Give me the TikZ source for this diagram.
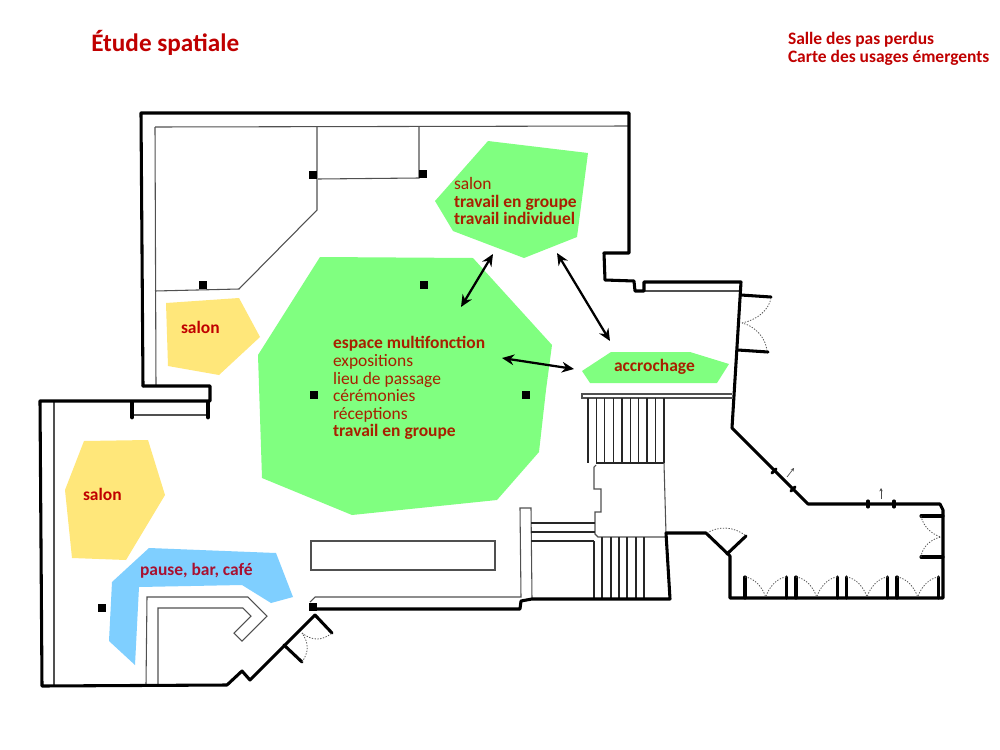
\documentclass[tikz,border=0pt]{standalone}
\usepackage{fontspec}
\setmainfont{Carlito}
\usetikzlibrary{arrows.meta}
\definecolor{zgreen}{HTML}{80FF80}
\definecolor{zyellow}{HTML}{FFE77A}
\definecolor{zblue}{HTML}{7FCFFF}
\definecolor{titlered}{HTML}{C00000}
\definecolor{zonetxt}{HTML}{A82000}
\definecolor{yellowtxt}{HTML}{C00000}
\definecolor{bluetxt}{HTML}{A81030}
\definecolor{thinline}{HTML}{505050}
\newcommand{\regsize}{\fontsize{13.1}{16}\selectfont}
\newcommand{\boldsize}{\fontsize{13.1}{16}\selectfont\bfseries}
\tikzset{
  wall/.style={draw=black,line width=2.3pt,line join=round,line cap=round},
  jamb/.style={draw=black,line width=2.3pt,line cap=round},
  fatjamb/.style={draw=black,line width=3.6pt,line cap=round},
  thinwall/.style={draw=thinline,line width=0.8pt,line join=miter},
  tread/.style={draw=black!85,line width=0.9pt},
  swing/.style={draw=black!65,line width=0.6pt,dash pattern=on 1pt off 1.1pt},
  pillar/.style={fill=black,draw=none,minimum size=6pt,inner sep=0pt,outer sep=0pt,rectangle},
  zone/.style={draw=none},
  flow/.style={draw=black,line width=1.7pt,{Stealth[length=9pt,width=8pt]}-{Stealth[length=9pt,width=8pt]}},
  tiny/.style={draw=black!70,line width=0.5pt,-{Stealth[length=2.5pt,width=2.5pt]}},
  lbl/.style={anchor=base west,inner sep=0pt,outer sep=0pt,font=\regsize,align=left},
  zlbl/.style={lbl,text=zonetxt},
  zbold/.style={zlbl,font=\boldsize}
}
\begin{document}
\begin{tikzpicture}[x=0.75pt,y=-0.75pt]
\useasboundingbox (0,0) rectangle (1000,750);
\fill[white] (0,0) rectangle (1000,750);
% zones
\fill[zone,zgreen] (320,257)--(473,258)--(552,345)--(546,390)--(539,452)--(497,500)--(352,515)--(262,478)--(258,355)--cycle;
\fill[zone,zgreen] (488,141)--(588,153)--(577,237)--(524,258)--(453,231)--(435,201)--cycle;
\fill[zone,zgreen] (611,352)--(690,352)--(729,364)--(717,383)--(590,383)--(582,371)--cycle;
\fill[zone,zyellow] (166,303)--(239,298)--(260,337)--(219,375)--(168,366)--cycle;
\fill[zone,zyellow] (84,441)--(148,440)--(165,495)--(126,560)--(72,558)--(65,490)--cycle;
\fill[zone,zblue] (149,548)--(276,553)--(293,597)--(271,603)--(242,585)--(139,587)--(135,665)--(109,641)--(112,582)--cycle;
% thin inner lines, upper room
\draw[thinwall] (155,127)--(629,126);
\draw[thinwall] (155,127)--(156,386);
\draw[thinwall] (155,291)--(239,289)--(317,210)--(317,127);
\draw[thinwall] (318,179)--(419,178)--(419,127);
% lower left
\draw[thinwall] (54,401)--(54,686);
\draw[thinwall] (146,685)--(147,597)--(248,597)--(267,616)--(242,641)--(234,633)--(251,616)--(243,608)--(158,608)--(158,685);
\draw[thinwall] (132,415)--(208,415);
% long rectangle
\draw[thinwall] (311,541) rectangle (495,570);
% bench
\draw[thinwall] (310,602)--(315,597)--(521,597)--(520,508)--(531,508)--(532,599);
% stairs upper
\draw[thinwall] (732,394)--(582,394)--(582,398)--(732,398);
\foreach \tx in {588,596.3,604.7,613.3,622,630.7,638.7,647,655.7,664}{
  \draw[tread] (\tx,398)--(\tx,463);
}
\draw[tread] (596,463)--(664,463);
\draw[thinwall] (664,463)--(666,534);
\draw[thinwall] (596,465)--(594,467)--(594,489)--(601,489)--(601,512)--(595,512)--(595,534)--(598,537)--(666,537);
\foreach \tx in {602,611,619,627,636,644}{
  \draw[tread] (\tx,537)--(\tx,599);
}
\draw[tread] (594,541)--(594,599);
\draw[tread] (531,523)--(595,523);
\draw[tread] (531,532)--(595,532);
\draw[tread] (531,541)--(594,541);
\draw[thinwall] (644,291)--(741,291);
% walls
\draw[wall] (143,386)--(141,113)--(629,113)--(629,253)--(604,253)--(605,280)--(634,281)--(635,291)--(644,291)--(644,282)--(741,282)--(732,428)--(808,504)--(940,504)--(943,510)--(943,598)--(730,598)--(730,556)--(706,533)--(666,533)--(670,599)--(532,599)--(521,601)--(520,609)--(317,609);
\draw[wall] (315,615)--(250,680)--(242,671)--(227,685)--(42,686)--(40,401)--(210,401)--(210,386)--(143,386);
% jambs
\draw[fatjamb] (132,403)--(132,417);
\draw[fatjamb] (208,403)--(208,417);
\draw[jamb] (284,645)--(302,662);
\draw[jamb] (315,615)--(332,633);
\draw[jamb] (741,295)--(771,297);
\draw[jamb] (738,350)--(768,352);
\draw[jamb] (727,554)--(746,536);
\foreach \jx in {745,786.3,796,837.3,846.3,887.7,897,938.7}{
  \draw[jamb] (\jx,577)--(\jx,598);
}
\draw[jamb] (921,516)--(943,516);
\draw[jamb] (921,557)--(943,557);
\draw[jamb] (776,469)--(772,473);
\draw[jamb] (795,487)--(791,491);
\draw[jamb] (868,501)--(868,507);
\draw[jamb] (894,501)--(894,507);
% door swings
\draw[swing] (302,662) .. controls (309,652) and (309,643) .. (302,633);
\draw[swing] (302,633) .. controls (312,641) and (322,641) .. (332,633);
\draw[swing] (771,298) .. controls (769,310) and (757,320) .. (742,323);
\draw[swing] (767,351) .. controls (766,338) and (755,326) .. (742,323);
\draw[swing] (707,533) .. controls (718,526) and (734,526) .. (746,536);
\foreach \ax/\bx/\cx in {745/765.7/786.3,796/816.7/837.3,846.3/867/887.7,897/917.7/938.7}{
  \draw[swing] (\ax,577) .. controls (\ax+10,578) and (\bx-3,588) .. (\bx,597);
  \draw[swing] (\cx,577) .. controls (\cx-10,578) and (\bx+3,588) .. (\bx,597);
}
\draw[swing] (921,516) .. controls (923,526) and (931,534) .. (941,537);
\draw[swing] (921,557) .. controls (922,547) and (931,539) .. (941,537);
% outward marks
\coordinate (m1a) at (787,477); \coordinate (m1b) at (794,468);
\coordinate (m2a) at (881,499); \coordinate (m2b) at (881,488);
\draw[tiny] (m1a)--(m1b);
\draw[tiny] (m2a)--(m2b);
% pillars
\node[pillar] (p1) at (313,175) {};
\node[pillar] (p2) at (423,174) {};
\node[pillar] (p3) at (203,285) {};
\node[pillar] (p4) at (424,285) {};
\node[pillar] (p5) at (314,395) {};
\node[pillar] (p6) at (526,395) {};
\node[pillar] (p7) at (102,608) {};
\node[pillar] (p8) at (313,607) {};
% arrows
\coordinate (a1s) at (461,307); \coordinate (a1e) at (493,254);
\coordinate (a2s) at (557,253); \coordinate (a2e) at (610,341);
\coordinate (a3s) at (502,358); \coordinate (a3e) at (574,369);
\draw[flow] (a1s)--(a1e);
\draw[flow] (a2s)--(a2e);
\draw[flow] (a3s)--(a3e);
% texts
\node[anchor=base west,inner sep=0pt,text=titlered,font=\fontsize{18.9}{23}\selectfont\bfseries] (title) at (91,51) {Étude spatiale};
\node[lbl,text=titlered,font=\boldsize] (sub1) at (788,44) {Salle des pas perdus};
\node[lbl,text=titlered,font=\boldsize] (sub2) at (788,62) {Carte des usages émergents};
\node[zlbl] (u1) at (454,189) {salon};
\node[zbold] (u2) at (454,207) {travail en groupe};
\node[zbold] (u3) at (454,224) {travail individuel};
\node[zbold] (c1) at (333,348) {espace multifonction};
\node[zlbl] (c2) at (333,366) {expositions};
\node[zlbl] (c3) at (333,384) {lieu de passage};
\node[zlbl] (c4) at (333,401) {cérémonies};
\node[zlbl] (c5) at (333,419) {réceptions};
\node[zbold] (c6) at (333,436) {travail en groupe};
\node[zbold] (ac) at (614,371) {accrochage};
\node[lbl,text=yellowtxt,font=\boldsize] (s1) at (181,333) {salon};
\node[lbl,text=yellowtxt,font=\boldsize] (s2) at (83,500) {salon};
\node[lbl,text=bluetxt,font=\boldsize] (pb) at (140,575) {pause, bar, café};
\end{tikzpicture}
\end{document}
